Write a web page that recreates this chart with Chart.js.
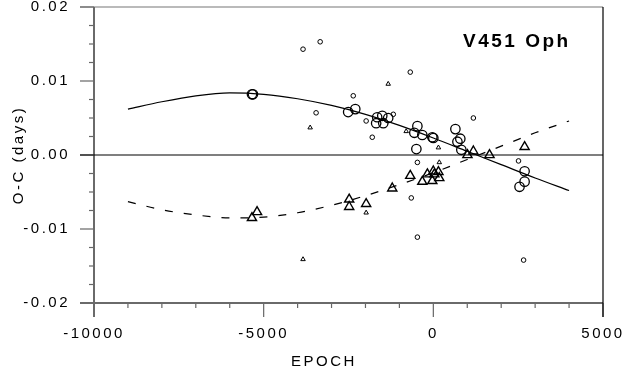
<!DOCTYPE html>
<html>
<head>
<meta charset="utf-8">
<script src="https://cdn.jsdelivr.net/npm/chart.js@4/dist/chart.umd.min.js"></script>
<style>
  html, body { margin: 0; padding: 0; background: #fff; }
  #oc { display: block; }
</style>
</head>
<body>
<canvas id="oc" width="622" height="369"></canvas>
<script>
'use strict';

// --- data ---
// primary minima, good weight (large circles)
const bigCircleEpoch = [-5345, -5315, -2510, -2300, -1655, -1505, -1330, -1685, -1475, -470, -560, -325, -30, 0, -500, 650, 795, 710, 825, 2690, 2690, 2540];
const bigCircleOC    = [0.0082, 0.0082, 0.0058, 0.0062, 0.0051, 0.0053, 0.0050, 0.0043, 0.0043, 0.0039, 0.0030, 0.0027, 0.0024, 0.0023, 0.0008, 0.0035, 0.0022, 0.0018, 0.0007, -0.0022, -0.0036, -0.0043];

// primary minima, low weight (small circles)
const smallCircleEpoch = [-3840, -3335, -680, -2360, -3455, -1980, -1180, -1800, 1180, -470, 2510, -650, -470, 2660];
const smallCircleOC    = [0.0143, 0.0153, 0.0112, 0.0080, 0.0057, 0.0046, 0.0055, 0.0024, 0.0050, -0.0010, -0.0008, -0.0058, -0.0111, -0.0142];

// secondary minima, good weight (large triangles)
const bigTriEpoch = [-5345, -5195, -2480, -2480, -1980, -1210, -680, -325, -175, 0, 30, -30, 175, 150, 1005, 1180, 1655, 2690];
const bigTriOC    = [-0.0085, -0.0077, -0.0060, -0.0070, -0.0066, -0.0045, -0.0028, -0.0036, -0.0026, -0.0022, -0.0026, -0.0035, -0.0031, -0.0023, 0.0000, 0.0005, 0.0000, 0.0011];

// secondary minima, low weight (small triangles)
const smallTriEpoch = [-3630, -1330, -800, 150, 175, -1980, -3840];
const smallTriOC    = [0.0037, 0.0096, 0.0032, 0.0010, -0.0010, -0.0078, -0.0141];

// fitted curves, read at these epochs
const fitEpoch     = [-9000, -8000, -7000, -6000, -5000, -4000, -3000, -2000, -1000, 0, 1000, 2000, 3000, 4000];
const primaryFit   = [0.0062, 0.0072, 0.0080, 0.0084, 0.0082, 0.0076, 0.0067, 0.0055, 0.0040, 0.0023, 0.0005, -0.0013, -0.0031, -0.0048];
const secondaryFit = [-0.0063, -0.0074, -0.0081, -0.0085, -0.0084, -0.0078, -0.0068, -0.0055, -0.0040, -0.0024, -0.0006, 0.0012, 0.0030, 0.0046];

// tick labels
const epochTicks = [-10000, -5000, 0, 5000];
const epochTickLabels = ['-10000', '-5000', '0', '5000'];
const ocTicks = [-0.02, -0.01, 0, 0.01, 0.02];
const ocTickLabels = ['-0.02', '-0.01', '0.00', '0.01', '0.02'];

const FONT = '"Liberation Sans", Arial, sans-serif';

function pts(xs, ys) {
    return xs.map((x, i) => ({ x: x, y: ys[i] }));
}

function majorIndex(v, list, eps) {
    return list.findIndex(m => Math.abs(m - v) < eps);
}

// axes frame, tick marks, zero line and the star name
const framePlugin = {
    id: 'frame',
    beforeDraw(chart) {
        chart.ctx.letterSpacing = '2.5px';
    },
    beforeDatasetsDraw(chart) {
        const ctx = chart.ctx;
        const a = chart.chartArea;
        const sx = chart.scales.x, sy = chart.scales.y;
        ctx.save();
        ctx.letterSpacing = '0px';
        ctx.lineCap = 'butt';

        // tick marks (outside)
        ctx.strokeStyle = '#666';
        ctx.lineWidth = 1.2;
        sx.ticks.forEach(t => {
            const px = sx.getPixelForValue(t.value);
            const len = majorIndex(t.value, epochTicks, 1e-6) >= 0 ? 14 : 5;
            ctx.beginPath();
            ctx.moveTo(px, a.bottom);
            ctx.lineTo(px, a.bottom + len);
            ctx.stroke();
        });
        sy.ticks.forEach(t => {
            const py = sy.getPixelForValue(t.value);
            const len = majorIndex(t.value, ocTicks, 1e-9) >= 0 ? 14 : 5;
            ctx.beginPath();
            ctx.moveTo(a.left - len, py);
            ctx.lineTo(a.left, py);
            ctx.stroke();
        });

        // top border
        ctx.lineWidth = 1.2;
        ctx.strokeStyle = '#777';
        ctx.beginPath();
        ctx.moveTo(a.left - 14, a.top);
        ctx.lineTo(a.right, a.top);
        ctx.stroke();

        // left and bottom axes
        ctx.lineWidth = 2;
        ctx.strokeStyle = '#6a6a6a';
        ctx.beginPath();
        ctx.moveTo(a.left, a.top);
        ctx.lineTo(a.left, a.bottom + 14);
        ctx.moveTo(a.left - 14, a.bottom);
        ctx.lineTo(a.right, a.bottom);
        ctx.stroke();

        // right border
        ctx.lineWidth = 1.2;
        ctx.strokeStyle = '#000';
        ctx.beginPath();
        ctx.moveTo(a.right, a.top);
        ctx.lineTo(a.right, a.bottom + 14);
        ctx.stroke();

        // zero line
        const y0 = sy.getPixelForValue(0);
        ctx.beginPath();
        ctx.moveTo(a.left - 14, y0);
        ctx.lineTo(a.right, y0);
        ctx.stroke();
        ctx.restore();
    },
    afterDraw(chart) {
        const ctx = chart.ctx;
        ctx.save();
        ctx.fillStyle = '#000';
        ctx.textBaseline = 'alphabetic';
        ctx.textAlign = 'left';

        ctx.font = 'bold 19px ' + FONT;
        ctx.letterSpacing = '2.5px';
        ctx.fillText('V451 Oph', 463, 47);

        ctx.font = '15px ' + FONT;
        ctx.letterSpacing = '2.5px';
        ctx.fillText('EPOCH', 291, 366);
        ctx.restore();
    }
};

new Chart(document.getElementById('oc'), {
    type: 'scatter',
    data: {
        datasets: [
            {
                type: 'line',
                label: 'primary fit',
                data: pts(fitEpoch, primaryFit),
                borderColor: '#000',
                borderWidth: 1.2,
                pointRadius: 0,
                cubicInterpolationMode: 'monotone',
                fill: false
            },
            {
                type: 'line',
                label: 'secondary fit',
                data: pts(fitEpoch, secondaryFit),
                borderColor: '#000',
                borderWidth: 1.2,
                borderDash: [8, 11],
                pointRadius: 0,
                cubicInterpolationMode: 'monotone',
                fill: false
            },
            {
                label: 'primary',
                data: pts(bigCircleEpoch, bigCircleOC),
                pointStyle: 'circle',
                pointRadius: 4.7,
                borderWidth: 1.3,
                borderColor: '#000',
                backgroundColor: 'rgba(0,0,0,0)'
            },
            {
                label: 'primary (low weight)',
                data: pts(smallCircleEpoch, smallCircleOC),
                pointStyle: 'circle',
                pointRadius: 2.3,
                borderWidth: 1,
                borderColor: '#000',
                backgroundColor: 'rgba(0,0,0,0)'
            },
            {
                label: 'secondary',
                data: pts(bigTriEpoch, bigTriOC),
                pointStyle: 'triangle',
                pointRadius: 5.3,
                borderWidth: 1.4,
                borderColor: '#000',
                backgroundColor: 'rgba(0,0,0,0)'
            },
            {
                label: 'secondary (low weight)',
                data: pts(smallTriEpoch, smallTriOC),
                pointStyle: 'triangle',
                pointRadius: 2.6,
                borderWidth: 1,
                borderColor: '#000',
                backgroundColor: 'rgba(0,0,0,0)'
            }
        ]
    },
    options: {
        responsive: false,
        animation: false,
        events: [],
        layout: { padding: { top: 7, right: 19, left: 0, bottom: 0 } },
        plugins: {
            legend: { display: false },
            tooltip: { enabled: false }
        },
        scales: {
            x: {
                type: 'linear',
                min: -10000,
                max: 5000,
                grid: { display: false, drawTicks: false },
                border: { display: false },
                ticks: {
                    stepSize: 1000,
                    autoSkip: false,
                    maxRotation: 0,
                    padding: 22,
                    color: '#000',
                    font: { family: FONT, size: 15 },
                    callback: v => {
                        const i = majorIndex(v, epochTicks, 1e-6);
                        return i >= 0 ? epochTickLabels[i] : '';
                    }
                },
                afterFit: s => {
                    s.height = 66;
                    s.paddingLeft = 0;
                    s.paddingRight = 0;
                }
            },
            y: {
                type: 'linear',
                min: -0.02,
                max: 0.02,
                grid: { display: false, drawTicks: false },
                border: { display: false },
                ticks: {
                    stepSize: 0.0025,
                    autoSkip: false,
                    padding: 24,
                    color: '#000',
                    font: { family: FONT, size: 15 },
                    callback: v => {
                        const i = majorIndex(v, ocTicks, 1e-9);
                        return i >= 0 ? ocTickLabels[i] : '';
                    }
                },
                title: {
                    display: true,
                    text: 'O-C (days)',
                    color: '#000',
                    font: { family: FONT, size: 15 },
                    padding: { top: 10, bottom: 0 }
                },
                afterFit: s => {
                    s.width = 94;
                    s.paddingTop = 0;
                    s.paddingBottom = 0;
                }
            }
        }
    },
    plugins: [framePlugin]
});
</script>
</body>
</html>
